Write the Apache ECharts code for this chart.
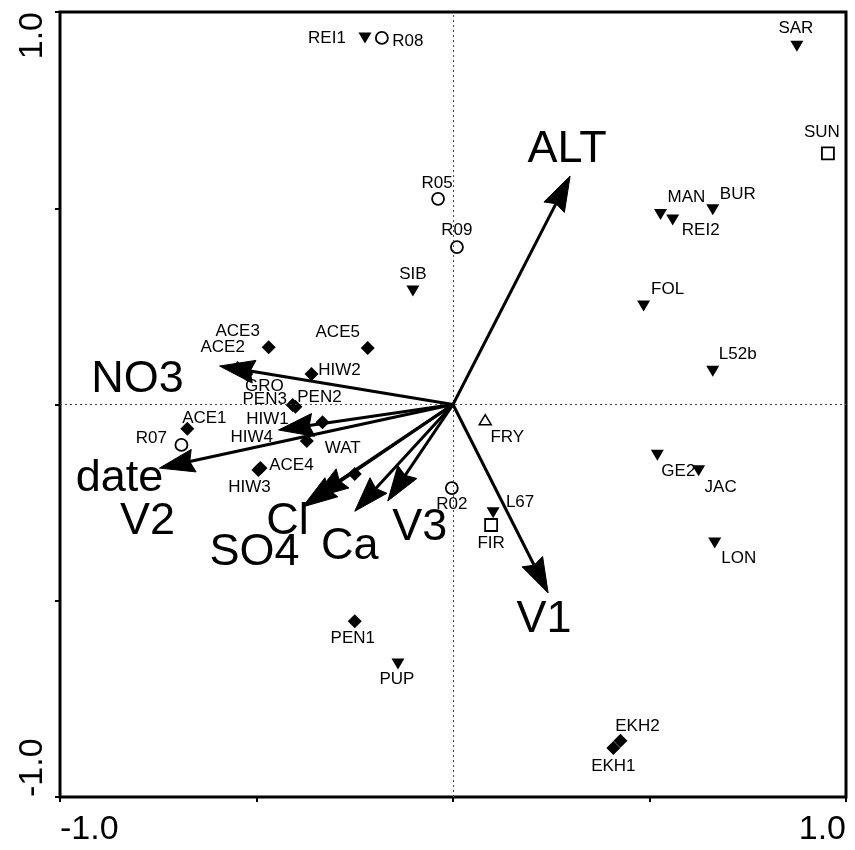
<!DOCTYPE html>
<html><head><meta charset="utf-8">
<script src="https://cdn.jsdelivr.net/npm/echarts@6/dist/echarts.min.js"></script>
<style>html,body{margin:0;padding:0;background:#fff}#c{width:855px;height:850px}</style>
</head><body><div id="c"></div>
<script>
// ---- data ----
const tickValues = [-1, 1];
const tickLabels = ['-1.0', '1.0'];

const vectorNames = ['ALT', 'V1', 'NO3', 'date', 'V2', 'SO4', 'Cl', 'Ca', 'V3'];
const vectorX = [0.298, 0.242, -0.594, -0.747, -0.444, -0.383, -0.355, -0.250, -0.166];
const vectorY = [0.582, -0.480, 0.098, -0.162, -0.065, -0.261, -0.238, -0.272, -0.246];

const siteNames = ['SAR','SUN','MAN','REI2','BUR','FOL','L52b','GE2','JAC','LON','FRY','R02','L67','FIR','PEN1','PUP','EKH2','EKH1','REI1','R08','R05','R09','SIB','ACE3','ACE2','ACE5','HIW2','GRO','PEN2','PEN3','HIW1','HIW4','ACE1','R07','ACE4','HIW3','WAT'];
const siteX = [0.875,0.954,0.528,0.559,0.661,0.485,0.661,0.520,0.625,0.666,0.082,-0.003,0.102,0.097,-0.250,-0.140,0.426,0.408,-0.224,-0.181,-0.038,0.010,-0.102,-0.469,-0.548,-0.217,-0.360,-0.526,-0.401,-0.408,-0.332,-0.372,-0.676,-0.691,-0.490,-0.495,-0.250];
const siteY = [0.913,0.640,0.484,0.470,0.496,0.251,0.085,-0.129,-0.169,-0.353,-0.039,-0.213,-0.276,-0.307,-0.552,-0.661,-0.857,-0.875,0.934,0.934,0.524,0.401,0.289,0.146,0.093,0.144,0.078,0.078,-0.006,-0.001,-0.045,-0.093,-0.062,-0.103,-0.162,-0.167,-0.177];
const siteType = ['tri','sq','tri','tri','tri','tri','tri','tri','tri','tri','utri','circ','tri','sq','dia','tri','dia','dia','tri','circ','circ','circ','tri','dia','dia','dia','dia','dia','dia','dia','dia','dia','dia','circ','dia','dia','dia'];

// ---- layout / style config ----
const FONT = 'Liberation Sans, Arial, sans-serif';
const siteLabelOffset = {
  SAR:[-1,-18], SUN:[-6,-21], MAN:[26,-17], REI2:[28,10], BUR:[25,-16], FOL:[24,-17], L52b:[25,-17],
  GE2:[21,16], JAC:[22,16], LON:[24,15], FRY:[22,18], R02:[0,16], L67:[27,-11], FIR:[0,18],
  PEN1:[-2,17], PUP:[-1,15], EKH2:[17,-15], EKH1:[0,18], REI1:[-38,0], R08:[26,3], R05:[-1,-16],
  R09:[0,-17], SIB:[0,-17], ACE3:[-31,-16], ACE2:[-15,-21], ACE5:[-30,-16], HIW2:[28,-4], GRO:[18,12],
  PEN2:[24,-10], PEN3:[-28,-6], HIW1:[-55,-3], HIW4:[-55,-4], ACE1:[17,-11], R07:[-30,-7],
  ACE4:[31,-3], HIW3:[-9,17], WAT:[-12,-26]
};
const vectorLabelOffset = {
  ALT:[-3,-26], V1:[-4,27], NO3:[-82,14], date:[-40,11], V2:[-131,92], SO4:[-48,46], Cl:[-26,24], Ca:[-5,35], V3:[32,27]
};
const symbolStyle = {
  tri:  {symbol:'triangle', symbolRotate:180, symbolSize:[13,11], itemStyle:{color:'#000', opacity:1}},
  utri: {symbol:'triangle', symbolRotate:0, symbolSize:[12,10], itemStyle:{color:'#fff', borderColor:'#000', borderWidth:1.5, opacity:1}},
  circ: {symbol:'circle', symbolRotate:0, symbolSize:12, itemStyle:{color:'#fff', borderColor:'#000', borderWidth:1.8, opacity:1}},
  sq:   {symbol:'rect', symbolRotate:0, symbolSize:12, itemStyle:{color:'#fff', borderColor:'#000', borderWidth:1.8, opacity:1}},
  dia:  {symbol:'diamond', symbolRotate:0, symbolSize:[14,14], itemStyle:{color:'#000', opacity:1}}
};

const chart = echarts.init(document.getElementById('c'), null, {renderer:'canvas'});

function tickFmt(v){
  const k = tickValues.findIndex(t => Math.abs(t - v) < 1e-9);
  return k >= 0 ? tickLabels[k] : '';
}

const siteSeries = Object.keys(symbolStyle).map((type, si) => {
  const st = symbolStyle[type];
  const data = [];
  siteNames.forEach((n, i) => {
    if (siteType[i] !== type) return;
    data.push({name:n, value:[siteX[i], siteY[i]], label:{offset: siteLabelOffset[n] || [0,-16]}});
  });
  return {
    type:'scatter', name:type, data, z:3,
    symbol:st.symbol, symbolRotate:st.symbolRotate, symbolSize:st.symbolSize, itemStyle:st.itemStyle,
    label:{show:true, position:'inside', formatter:'{b}', color:'#000', fontSize:17, fontFamily:FONT, textBorderWidth:0},
    emphasis:{disabled:true}, animation:false, silent:true,
    markLine: si === 0 ? {
      silent:true, symbol:'none', label:{show:false}, animation:false,
      lineStyle:{type:[2,3], color:'#444', width:1},
      emphasis:{disabled:true},
      data:[{xAxis:0},{yAxis:0}]
    } : undefined
  };
});

const arrowSeries = {
  type:'custom', z:5, animation:false, silent:true,
  data: vectorNames.map((n,i)=>[vectorX[i], vectorY[i], i]),
  encode:{x:0, y:1},
  renderItem(params, api){
    const o = api.coord([0,0]);
    const t = api.coord([api.value(0), api.value(1)]);
    const i = api.value(2);
    const dx=t[0]-o[0], dy=t[1]-o[1], len=Math.hypot(dx,dy);
    const ux=dx/len, uy=dy/len, nx=-uy, ny=ux;
    const HL=35, HW=11.5, NOTCH=4;
    const bx=t[0]-ux*HL, by=t[1]-uy*HL;
    const mx=t[0]-ux*(HL-NOTCH), my=t[1]-uy*(HL-NOTCH);
    const off = vectorLabelOffset[vectorNames[i]];
    return {type:'group', children:[
      {type:'line', shape:{x1:o[0],y1:o[1],x2:mx,y2:my}, style:{stroke:'#000', lineWidth:3}},
      {type:'polygon', shape:{points:[[t[0],t[1]],[bx+nx*HW,by+ny*HW],[mx,my],[bx-nx*HW,by-ny*HW]]}, style:{fill:'#000', stroke:'#000', lineWidth:1}},
      {type:'text', x:t[0]+off[0], y:t[1]+off[1], style:{text:vectorNames[i], fill:'#000', fontSize:45, fontFamily:FONT, align:'center', verticalAlign:'middle'}}
    ]};
  }
};

const axisCommon = {
  type:'value', min:-1, max:1, interval:0.5,
  axisLine:{show:false, onZero:false},
  axisTick:{show:true, inside:false, length:5, lineStyle:{color:'#000', width:2}},
  splitLine:{show:false},
};

chart.setOption({
  backgroundColor:'#fff',
  animation:false,
  grid:{left:60, top:12, right:9, bottom:53, show:true, borderColor:'#000', borderWidth:3, backgroundColor:'transparent'},
  xAxis: Object.assign({}, axisCommon, {
    axisLabel:{formatter:tickFmt, fontSize:34, fontFamily:FONT, color:'#000', margin:16, showMinLabel:true, showMaxLabel:true, alignMinLabel:'left', alignMaxLabel:'right', hideOverlap:false}
  }),
  yAxis: Object.assign({}, axisCommon, {
    axisLabel:{formatter:tickFmt, fontSize:34, fontFamily:FONT, color:'#000', margin:10, rotate:90, showMinLabel:true, showMaxLabel:true, alignMinLabel:'left', alignMaxLabel:'right', hideOverlap:false}
  }),
  series: siteSeries.concat([arrowSeries])
});
</script>
</body></html>
